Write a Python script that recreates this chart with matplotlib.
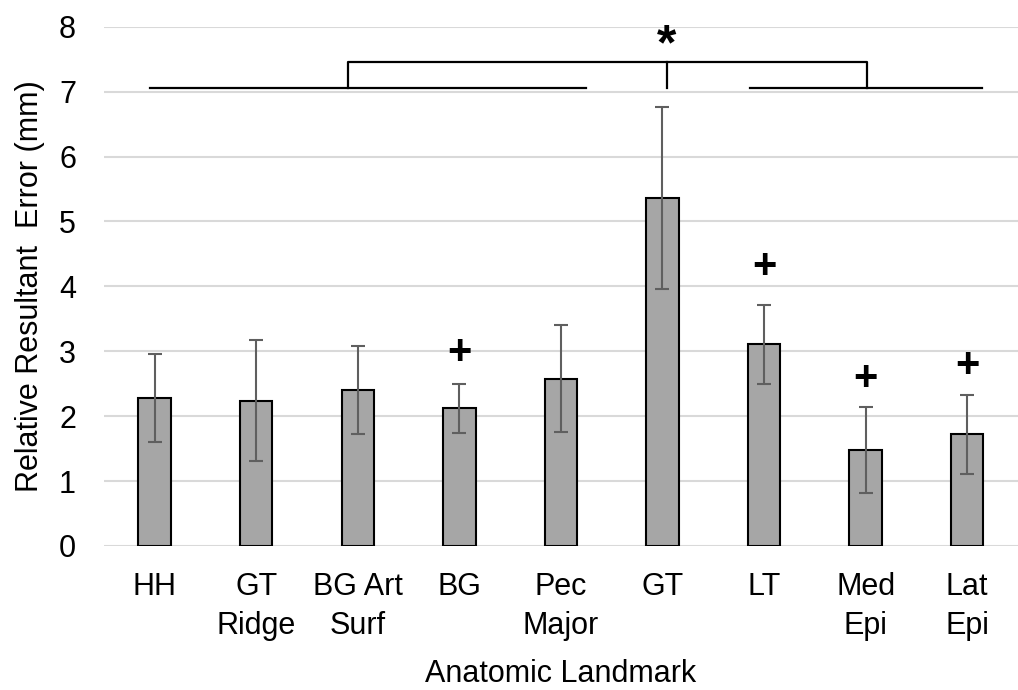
import numpy as np
import matplotlib
matplotlib.use("Agg")
import matplotlib.pyplot as plt

plt.rcParams["font.family"] = ["Liberation Sans", "DejaVu Sans"]

# дані
landmarks = ["HH", "GT\nRidge", "BG Art\nSurf", "BG", "Pec\nMajor", "GT", "LT", "Med\nEpi", "Lat\nEpi"]
mean_error = [2.28, 2.24, 2.40, 2.12, 2.58, 5.36, 3.11, 1.48, 1.72]
sd_error = [0.68, 0.93, 0.68, 0.38, 0.82, 1.40, 0.61, 0.66, 0.61]
plus_marks = {3: 2.97, 6: 4.30, 7: 2.58, 8: 2.77}

x = np.arange(len(landmarks))

fig = plt.figure(figsize=(10.18, 6.9), dpi=100)
ax = fig.add_axes([0.102, 0.2087, 0.898, 0.7526])

ax.bar(x, mean_error, width=0.32, color="#a6a6a6", edgecolor="black", linewidth=1.5, zorder=3)
ax.errorbar(x, mean_error, yerr=sd_error, fmt="none", ecolor="#5f5f5f",
            elinewidth=1.5, capsize=5, capthick=1.5, zorder=4)

for i, y in plus_marks.items():
    ax.text(x[i], y, "+", ha="center", va="center", fontsize=30, fontweight="bold")

# дужки значущості
lw = 1.6
ax.plot([-0.05, 4.25], [7.06, 7.06], color="black", lw=lw, clip_on=False)
ax.plot([5.86, 8.15], [7.06, 7.06], color="black", lw=lw, clip_on=False)
ax.plot([1.9, 1.9, 7.01, 7.01], [7.06, 7.45, 7.45, 7.06], color="black", lw=lw, clip_on=False)
ax.plot([5.04, 5.04], [7.45, 7.06], color="black", lw=lw, clip_on=False)
ax.text(5.04, 7.7, "*", ha="center", va="center", fontsize=36, fontweight="bold")

ax.set_xlim(-0.5, 8.5)
ax.set_ylim(0, 8)
ax.set_yticks(range(0, 9))
ax.set_xticks(x)
ax.set_xticklabels(landmarks, fontsize=22, linespacing=1.36)
ax.tick_params(axis="x", length=0, pad=19)
ax.tick_params(axis="y", length=0, pad=20, labelsize=22)
ax.grid(axis="y", color="#d9d9d9", linewidth=1.5, zorder=0)
for s in ax.spines.values():
    s.set_visible(False)

fig.text(0.551, 0.001, "Anatomic Landmark", fontsize=22, ha="center", va="bottom")
ax.set_ylabel("Relative Resultant  Error (mm)", fontsize=22, labelpad=10)

plt.savefig("out.png", dpi=100)
